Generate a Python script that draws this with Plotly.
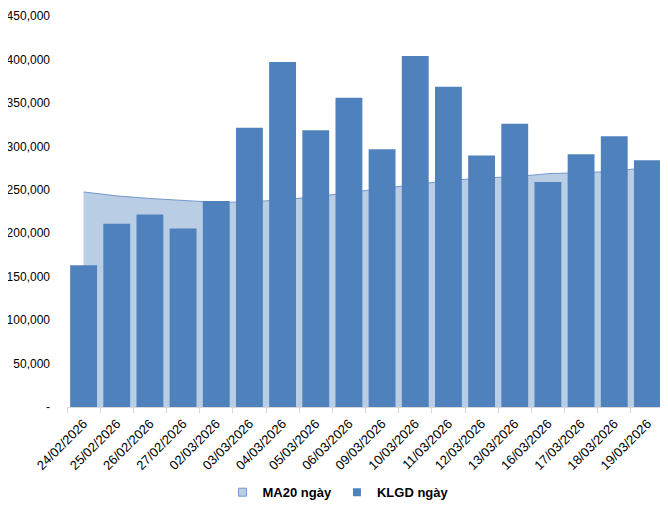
import plotly.graph_objects as go

dates = ["24/02/2026", "25/02/2026", "26/02/2026", "27/02/2026", "02/03/2026", "03/03/2026",
         "04/03/2026", "05/03/2026", "06/03/2026", "09/03/2026", "10/03/2026", "11/03/2026",
         "12/03/2026", "13/03/2026", "16/03/2026", "17/03/2026", "18/03/2026", "19/03/2026"]
klgd = [163000, 211000, 221500, 205500, 237000, 321500, 397000, 318500, 356000, 296500,
        404000, 368500, 289500, 326000, 259000, 291000, 311500, 284000]
ma20 = [247500, 243000, 240000, 237500, 235500, 236000, 238500, 242000, 247000, 251500,
        256000, 260500, 263500, 265000, 268500, 270000, 271000, 276000]
ytick_vals = [0, 50000, 100000, 150000, 200000, 250000, 300000, 350000, 400000, 450000]
ytick_text = ["-", "50,000", "100,000", "150,000", "200,000", "250,000", "300,000",
              "350,000", "400,000", "450,000"]

FONT = "Liberation Sans, Arial, sans-serif"
BAR_COLOR = "#4f81bd"
AREA_FILL = "#b9cde5"
AREA_LINE = "#7398cc"

fig = go.Figure()
fig.add_trace(go.Scatter(
    x=dates, y=ma20, name="MA20 ngày", mode="lines", fill="tozeroy",
    line=dict(color=AREA_LINE, width=1), fillcolor=AREA_FILL,
    xaxis="x", yaxis="y", showlegend=False,
))
fig.add_trace(go.Bar(
    x=dates, y=klgd, name="KLGD ngày", marker=dict(color=BAR_COLOR, line=dict(width=0)),
    xaxis="x2", yaxis="y2", showlegend=False,
))
# legend entries (square swatches)
fig.add_trace(go.Scatter(
    x=dates, y=[None] * len(dates), name="MA20 ngày", mode="markers",
    marker=dict(symbol="square", size=8, color=AREA_FILL, line=dict(color=AREA_LINE, width=1)),
    xaxis="x", yaxis="y", showlegend=True,
))
fig.add_trace(go.Scatter(
    x=dates, y=[None] * len(dates), name="KLGD ngày", mode="markers",
    marker=dict(symbol="square", size=8, color=BAR_COLOR, line=dict(width=0)),
    xaxis="x", yaxis="y", showlegend=True,
))

# page has an 8px body margin, so the figure is sized/offset to compensate
fig.update_layout(
    width=660, height=497,
    margin=dict(l=59, r=4, t=8, b=98, autoexpand=False),
    paper_bgcolor="white", plot_bgcolor="white",
    font=dict(family=FONT, size=12, color="#000000"),
    bargap=0.19, barmode="overlay",
    showlegend=True,
    legend=dict(orientation="h", x=0.454, xanchor="center", y=-0.218, yanchor="middle",
                font=dict(family=FONT, size=13, color="#000000", weight="bold"),
                traceorder="normal", itemwidth=30, tracegroupgap=0),
    xaxis=dict(type="category", range=[-0.5, 17.5], tickangle=-45, ticks="outside",
               tickson="boundaries", ticklen=5, tickcolor="#d9d9d9", showline=True,
               linecolor="#d9d9d9", linewidth=1, showgrid=False, zeroline=False,
               automargin=False, ticklabelstandoff=3, ticklabeloverflow="allow",
               tickfont=dict(family=FONT, size=13, color="#000000")),
    yaxis=dict(range=[0, 450000], tickvals=ytick_vals, ticktext=ytick_text,
               showgrid=False, zeroline=False, showline=False, ticks="",
               ticklabelstandoff=16, automargin=False, ticklabeloverflow="allow",
               tickfont=dict(family=FONT, size=12, color="#000000")),
    xaxis2=dict(type="category", range=[-0.5, 17.5], overlaying="x", visible=False,
                categoryorder="array", categoryarray=dates),
    yaxis2=dict(range=[0, 450000], overlaying="y", visible=False),
)

fig.write_html("out.html")
